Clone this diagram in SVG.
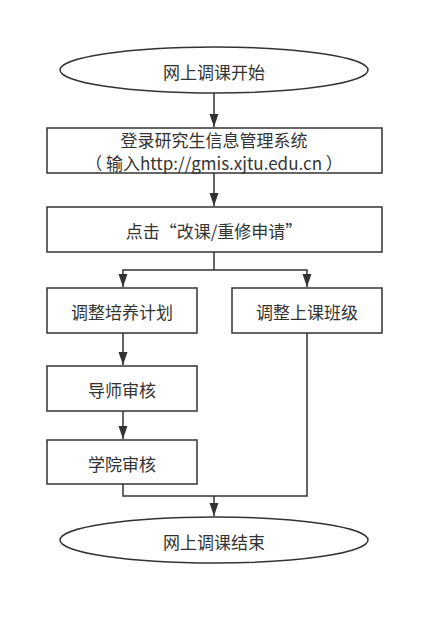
<svg xmlns="http://www.w3.org/2000/svg" width="443" height="626" viewBox="0 0 443 626">
<style>
.n{fill:#fff;stroke:#333;stroke-width:1.5}
.t{font-family:"Noto Sans CJK SC","Noto Sans",sans-serif;font-size:17px;fill:#333;text-anchor:middle;dominant-baseline:central}
.c{fill:none;stroke:#333;stroke-width:1.5}
</style>
<defs>
<marker id="a" markerWidth="14" markerHeight="12" refX="13" refY="5" orient="auto" markerUnits="userSpaceOnUse">
<path d="M0,0.5 L13,5 L0,9.5 Z" fill="#333"/>
</marker>
</defs>
<rect width="443" height="626" fill="#fff"/>
<g id="connectors">
<path class="c" d="M214,93 V127" marker-end="url(#a)"/>
<path class="c" d="M214,173 V206" marker-end="url(#a)"/>
<path class="c" d="M214,252 V270"/>
<path class="c" d="M214,270 H123 V287" marker-end="url(#a)"/>
<path class="c" d="M214,270 H307 V287" marker-end="url(#a)"/>
<path class="c" d="M123,333 V365" marker-end="url(#a)"/>
<path class="c" d="M123,411 V439" marker-end="url(#a)"/>
<path class="c" d="M123,484 V496 H307 V333"/>
<path class="c" d="M214,496 V516" marker-end="url(#a)"/>
</g>
<g id="start">
<ellipse class="n" cx="214" cy="70" rx="154" ry="23"/>
<text class="t" x="214" y="71">网上调课开始</text>
</g>
<g id="login">
<rect class="n" x="47" y="128" width="335" height="45"/>
<text class="t" x="214" y="139.5" font-size="15.5">登录研究生信息管理系统</text>
<text class="t" x="214" y="162.5" font-size="15.5">（ 输入http://gmis.xjtu.edu.cn ）</text>
</g>
<g id="click">
<rect class="n" x="47" y="207" width="335" height="45"/>
<text class="t" x="214" y="230">点击“改课/重修申请”</text>
</g>
<g id="plan">
<rect class="n" x="47" y="288" width="150" height="45"/>
<text class="t" x="122" y="311">调整培养计划</text>
</g>
<g id="class">
<rect class="n" x="232" y="288" width="150" height="45"/>
<text class="t" x="307" y="311">调整上课班级</text>
</g>
<g id="tutor">
<rect class="n" x="47" y="366" width="150" height="45"/>
<text class="t" x="122" y="389">导师审核</text>
</g>
<g id="college">
<rect class="n" x="47" y="440" width="150" height="44"/>
<text class="t" x="122" y="463">学院审核</text>
</g>
<g id="end">
<ellipse class="n" cx="214" cy="540" rx="154" ry="23"/>
<text class="t" x="214" y="541">网上调课结束</text>
</g>
</svg>
